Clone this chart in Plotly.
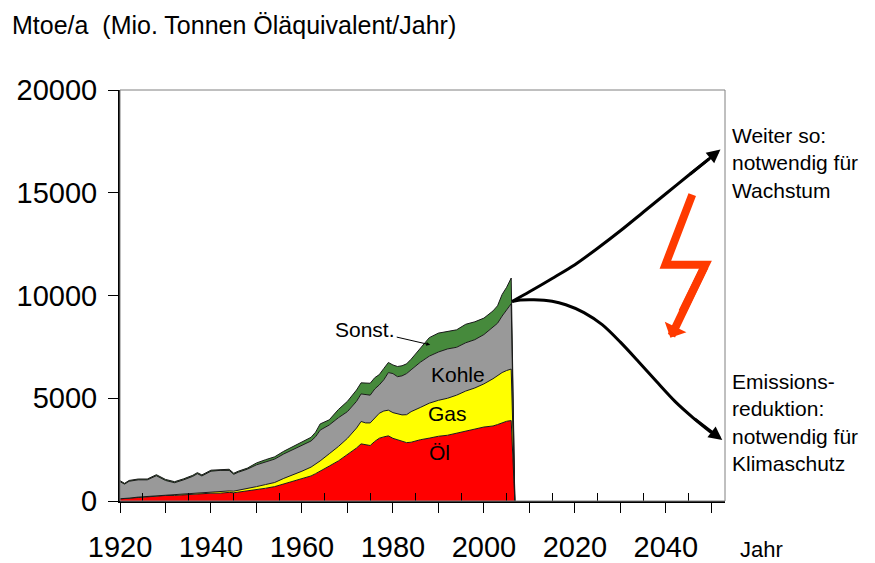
import plotly.graph_objects as go

# ---------------- data ----------------
years = [1920, 1921, 1922, 1924, 1926, 1928, 1930, 1932, 1934, 1936, 1937, 1938,
         1940, 1942, 1944, 1945, 1946, 1948, 1950, 1952, 1954, 1956, 1958, 1960,
         1962, 1963, 1964, 1966, 1968, 1970, 1972, 1973, 1974, 1975, 1976, 1977,
         1978, 1979, 1980, 1981, 1982, 1983, 1984, 1986, 1988, 1990, 1992, 1994,
         1996, 1998, 2000, 2002, 2003, 2004, 2005, 2006, 2006.8]

oel = [100, 110, 130, 170, 200, 240, 270, 270, 300, 330, 350, 350,
       380, 380, 420, 400, 430, 490, 540, 620, 700, 830, 930, 1080,
       1220, 1330, 1440, 1700, 1950, 2250, 2580, 2780, 2740, 2700, 2900, 3055,
       3120, 3170, 3050, 2975, 2880, 2840, 2860, 2980, 3060, 3150, 3200, 3290,
       3400, 3500, 3600, 3650, 3720, 3820, 3880, 3915, 0]

gas = [10, 10, 10, 20, 20, 30, 30, 30, 40, 50, 50, 50,
       60, 70, 70, 80, 90, 130, 160, 180, 200, 270, 330, 370,
       430, 470, 510, 600, 700, 800, 970, 1090, 1060, 1100, 1150, 1215,
       1260, 1250, 1250, 1255, 1310, 1360, 1490, 1570, 1700, 1750, 1800, 1860,
       1950, 2000, 2100, 2300, 2380, 2430, 2470, 2505, 0]

kohle = [830, 700, 820, 840, 810, 960, 700, 590, 690, 820, 930, 820,
         1010, 1040, 1000, 820, 880, 930, 1060, 1100, 1140, 1190, 1240, 1240,
         1270, 1330, 1500, 1400, 1400, 1300, 1300, 1340, 1365, 1350, 1400, 1380,
         1520, 1830, 1900, 1820, 1900, 2000, 2035, 2200, 2290, 2350, 2400, 2330,
         2350, 2350, 2400, 2500, 2550, 2750, 2950, 3180, 0]

sonst = [50, 40, 40, 40, 40, 50, 50, 50, 50, 50, 50, 50,
         50, 50, 55, 50, 50, 50, 90, 110, 110, 130, 150, 160,
         180, 220, 300, 250, 400, 500, 550, 540, 575, 580, 550, 500,
         550, 490, 420, 495, 490, 475, 515, 700, 900, 920, 850, 850,
         900, 870, 800, 800, 850, 1050, 1100, 1250, 0]

weiter_years = [2006.2, 2010, 2015, 2020, 2025, 2030, 2035, 2040, 2045, 2049.5]
weiter_vals = [9710, 10180, 10830, 11500, 12300, 13150, 14050, 14950, 15850, 16650]

emission_years = [2006.2, 2008, 2011, 2015, 2018, 2022, 2026, 2030, 2034, 2038, 2042, 2046, 2050]
emission_vals = [9710, 9780, 9795, 9720, 9550, 9170, 8580, 7730, 6780, 5800, 4850, 4050, 3330]

x_tick_vals = [1920, 1930, 1940, 1950, 1960, 1970, 1980, 1990, 2000, 2010, 2020, 2030, 2040, 2050]
x_tick_text = ["1920", "", "1940", "", "1960", "", "1980", "", "2000", "", "2020", "", "2040", ""]
x_minor_vals = [1925, 1935, 1945, 1955, 1965, 1975, 1985, 1995, 2005, 2015, 2025, 2035, 2045]
y_tick_vals = [0, 5000, 10000, 15000, 20000]
y_tick_text = ["0", "5000", "10000", "15000", "20000"]

FONT = "Arial, Liberation Sans, sans-serif"

layers = [
    ("Öl", oel, "#FF0000"),
    ("Gas", gas, "#FFFF00"),
    ("Kohle", kohle, "#999999"),
    ("Sonst.", sonst, "#468A3C"),
]

fig = go.Figure()
for name, vals, col in layers:
    fig.add_trace(go.Scatter(
        x=years, y=vals, name=name, mode="lines", stackgroup="one",
        fillcolor=col, line=dict(color="#1a1a1a", width=1),
        hoverinfo="x+y+name",
    ))

fig.add_trace(go.Scatter(x=weiter_years, y=weiter_vals, mode="lines",
                         line=dict(color="black", width=3, shape="spline", smoothing=0.8),
                         showlegend=False))
fig.add_trace(go.Scatter(x=emission_years, y=emission_vals, mode="lines",
                         line=dict(color="black", width=3, shape="spline", smoothing=0.8),
                         showlegend=False))

annotations = []
# arrow heads for scenario curves
annotations.append(dict(x=2052.0, y=17100, ax=weiter_years[-2], ay=weiter_vals[-2],
                        xref="x", yref="y", axref="x", ayref="y", text="",
                        showarrow=True, arrowhead=2, arrowsize=0.9, arrowwidth=3,
                        arrowcolor="black"))
annotations.append(dict(x=2052.4, y=2970, ax=emission_years[-2], ay=emission_vals[-2],
                        xref="x", yref="y", axref="x", ayref="y", text="",
                        showarrow=True, arrowhead=2, arrowsize=0.9, arrowwidth=3,
                        arrowcolor="black"))
# lightning arrow head
annotations.append(dict(x=2041.0, y=7940, ax=2048.7, ay=11500,
                        xref="x", yref="y", axref="x", ayref="y", text="",
                        showarrow=True, arrowhead=1, arrowsize=0.5, arrowwidth=8,
                        arrowcolor="#FF3A00"))

# layer labels
lab_font = dict(family=FONT, size=21, color="black")
annotations += [
    dict(x=1994.4, y=6140, text="Kohle", xref="x", yref="y", showarrow=False, font=lab_font),
    dict(x=1991.9, y=4240, text="Gas", xref="x", yref="y", showarrow=False, font=lab_font),
    dict(x=1990.2, y=2340, text="Öl", xref="x", yref="y", showarrow=False, font=lab_font),
    dict(x=1988.2, y=7600, text="Sonst.", xref="x", yref="y", showarrow=True,
         ax=-65, ay=-15, arrowhead=2, arrowsize=0.8, arrowwidth=1, arrowcolor="black",
         font=lab_font),
]

# titles / side texts
annotations += [
    dict(x=-0.1818, y=1.158, xref="paper", yref="paper", xanchor="left", yanchor="middle",
         text="Mtoe/a\u00a0 (Mio. Tonnen Öläquivalent/Jahr)", showarrow=False,
         font=dict(family=FONT, size=25, color="black")),
    dict(x=1.0215, y=-0.119, xref="paper", yref="paper", xanchor="left", yanchor="middle",
         text="Jahr", showarrow=False, font=dict(family=FONT, size=22, color="black")),
    dict(x=1.0083, y=0.922, xref="paper", yref="paper", xanchor="left", yanchor="top",
         align="left", text="Weiter so:<br>notwendig für<br>Wachstum", showarrow=False,
         font=dict(family=FONT, size=21, color="black")),
    dict(x=1.0083, y=0.3236, xref="paper", yref="paper", xanchor="left", yanchor="top",
         align="left", text="Emissions-<br>reduktion:<br>notwendig für<br>Klimaschutz",
         showarrow=False, font=dict(family=FONT, size=21, color="black")),
]

shapes = [
    dict(type="rect", xref="paper", yref="paper", x0=0, y0=0, x1=1, y1=1,
         line=dict(color="#808080", width=1), layer="above"),
    dict(type="path", xref="x", yref="y",
         path="M 2045.8,14910 L 2039.9,11500 L 2048.7,11500 L 2043.6,9200",
         line=dict(color="#FF3A00", width=8)),
]

# the page places the figure 8px from the top-left corner of the window
fig.update_layout(
    width=867, height=555,
    margin=dict(l=112, r=150, t=82, b=62, autoexpand=False),
    paper_bgcolor="white", plot_bgcolor="white",
    showlegend=False,
    annotations=annotations,
    shapes=shapes,
    font=dict(family=FONT, color="black"),
)

fig.update_xaxes(
    range=[1920, 2053], tickmode="array", tickvals=x_tick_vals, ticktext=x_tick_text,
    ticks="outside", ticklen=10, tickwidth=1, tickcolor="black", automargin=False,
    showline=True, linecolor="black", linewidth=2, showgrid=False, zeroline=False,
    tickfont=dict(family=FONT, size=29, color="black"), ticklabelstandoff=9,
    minor=dict(tickmode="array", tickvals=x_minor_vals, ticks="inside", ticklen=8,
               tickwidth=1, tickcolor="black", showgrid=False),
)
fig.update_yaxes(
    range=[0, 20000], tickmode="array", tickvals=y_tick_vals, ticktext=y_tick_text,
    ticks="outside", ticklen=10, tickwidth=1, tickcolor="black", automargin=False,
    showline=True, linecolor="black", linewidth=2, showgrid=False, zeroline=False,
    tickfont=dict(family=FONT, size=29, color="black"), ticklabelstandoff=5,
)

fig.write_html("out.html")
